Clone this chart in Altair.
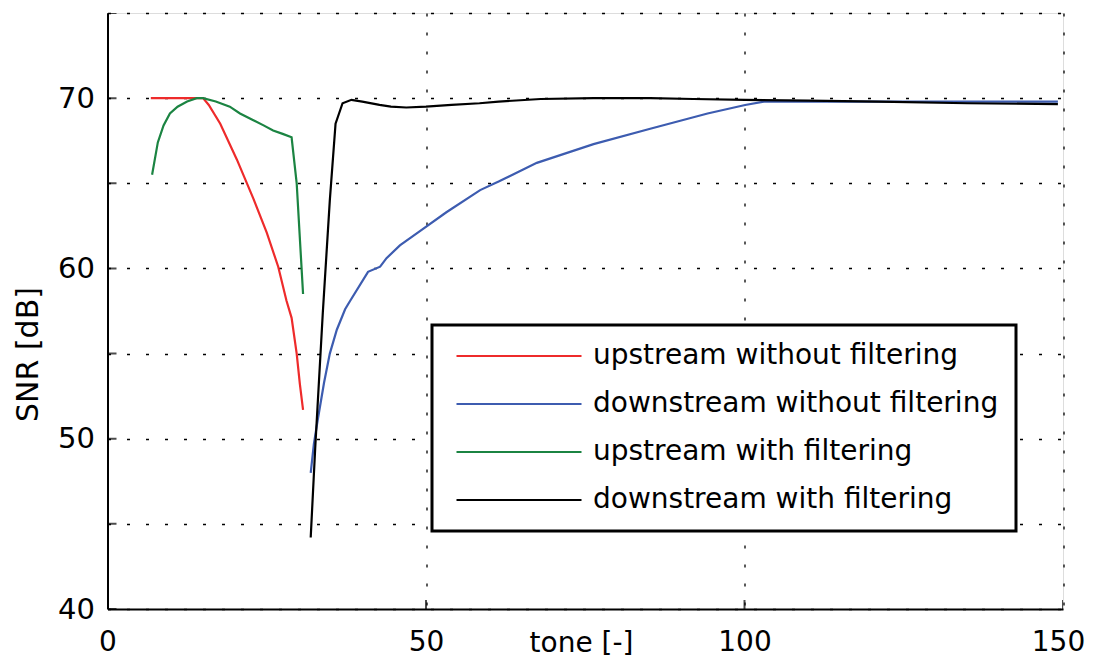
import altair as alt
import pandas as pd

FONT = "DejaVu Sans"

series_names = [
    "upstream without filtering",
    "downstream without filtering",
    "upstream with filtering",
    "downstream with filtering",
]
series_colors = ["#ee2b2b", "#3d5cb0", "#1b8442", "#000000"]

# upstream without filtering (red)
red_x = [6.8, 9.0, 11.0, 13.0, 15.0, 15.9, 17.7, 20.3, 22.9, 25.0, 26.8, 28.1, 28.9, 29.7, 30.2, 30.7]
red_y = [70.0, 70.0, 70.0, 70.0, 70.0, 69.6, 68.5, 66.4, 64.1, 62.1, 60.1, 58.1, 57.1, 55.0, 53.2, 51.7]

# downstream without filtering (blue)
blue_x = [31.9, 32.4, 33.0, 34.0, 34.9, 36.0, 37.3, 38.1, 40.9, 42.8, 43.8, 45.9, 49.1, 53.2, 58.5,
          61.4, 67.4, 76.3, 85.2, 94.2, 100.1, 103.1, 115.0, 130.0, 149.2]
blue_y = [48.0, 49.7, 51.1, 53.3, 55.0, 56.4, 57.6, 58.1, 59.8, 60.1, 60.6, 61.35, 62.2, 63.3, 64.6,
          65.1, 66.2, 67.3, 68.2, 69.1, 69.6, 69.8, 69.8, 69.8, 69.8]

# upstream with filtering (green)
green_x = [7.0, 7.9, 8.8, 9.8, 11.0, 12.5, 14.0, 15.0, 17.0, 19.2, 20.8, 22.9, 24.5, 26.0, 27.5, 28.9, 29.7, 30.7]
green_y = [65.5, 67.4, 68.4, 69.1, 69.5, 69.8, 70.0, 70.0, 69.8, 69.5, 69.1, 68.7, 68.4, 68.1, 67.9, 67.7, 65.0, 58.5]

# downstream with filtering (black)
black_x = [31.9, 32.6, 33.8, 34.9, 35.8, 36.9, 38.3, 40.0, 42.7, 44.5, 46.9, 50.0, 54.0, 58.4, 61.4,
           68.0, 76.3, 85.2, 92.0, 100.1, 110.0, 121.0, 135.0, 149.2]
black_y = [44.2, 49.4, 57.4, 64.0, 68.5, 69.7, 69.9, 69.8, 69.6, 69.5, 69.45, 69.5, 69.6, 69.7, 69.8,
           69.95, 70.0, 70.0, 69.95, 69.9, 69.85, 69.8, 69.7, 69.65]

x_tick_values = [0, 50, 100, 150]
y_tick_values = [40, 45, 50, 55, 60, 65, 70, 75]

rows = []
for name, xs, ys in zip(series_names, [red_x, blue_x, green_x, black_x], [red_y, blue_y, green_y, black_y]):
    for x, y in zip(xs, ys):
        rows.append({"tone": x, "snr": y, "series": name})
df = pd.DataFrame(rows)

ytick_df = pd.DataFrame({"tone": [x_tick_values[0]] * len(y_tick_values), "snr": y_tick_values})
xtick_df = pd.DataFrame({"tone": x_tick_values, "snr": [y_tick_values[0]] * len(x_tick_values)})

x_scale = alt.Scale(domain=[x_tick_values[0], x_tick_values[-1]], nice=False, zero=False)
y_scale = alt.Scale(domain=[y_tick_values[0], y_tick_values[-1]], nice=False, zero=False)

grid_style = dict(grid=True, gridColor="#000000", gridDash=[3, 16], gridWidth=1.3, gridOpacity=1,
                  domain=True, domainColor="#000000", domainWidth=2, ticks=False, tickSize=0,
                  labelFont=FONT, labelColor="#000000", labelFlush=False,
                  labelOverlap=False, titleFont=FONT, titleFontWeight="normal", titleColor="#000000")


def make_chart(fancy):
    x_extra = {}
    if fancy:
        x_extra["labelOffset"] = {"condition": {"test": f"datum.value >= {x_tick_values[-1]}", "value": -5},
                                  "value": 0}
    x_axis = alt.Axis(values=x_tick_values, title="tone [-]", labelPadding=19, labelFontSize=28,
                      titleFontSize=28, titleX=473.5, titleY=34, titleAlign="center",
                      titleBaseline="middle", **x_extra, **grid_style)
    y_axis = alt.Axis(values=y_tick_values, title="SNR [dB]",
                      labelExpr="datum.value % 10 === 0 ? datum.label : ''",
                      labelPadding=13, labelFontSize=29, titleFontSize=30, titleX=-79.5, titleY=341,
                      titleAngle=270, titleAlign="center", titleBaseline="middle", **grid_style)

    X = alt.X("tone:Q", scale=x_scale, axis=x_axis)
    Y = alt.Y("snr:Q", scale=y_scale, axis=y_axis)

    lines = alt.Chart(df).mark_line(strokeWidth=2.2, clip=True).encode(
        x=X,
        y=Y,
        color=alt.Color(
            "series:N",
            sort=series_names,
            scale=alt.Scale(domain=series_names, range=series_colors),
            legend=alt.Legend(
                orient="none", legendX=324.5, legendY=312, title=None,
                labelFont=FONT, labelFontSize=28, labelColor="#000000", labelLimit=700,
                symbolType="M-10,0H10", symbolSize=156.25, symbolStrokeWidth=2.2,
                symbolOffset=56, labelOffset=60, rowPadding=20, padding=17,
                strokeColor="#000000", fillColor="#ffffff",
            ),
        ),
    )

    yticks = alt.Chart(ytick_df).mark_tick(orient="horizontal", size=18, thickness=2,
                                           color="#000000", clip=True).encode(x=X, y=Y)
    xticks = alt.Chart(xtick_df).mark_tick(orient="vertical", size=18, thickness=2,
                                           color="#000000", clip=True).encode(x=X, y=Y)

    c = alt.layer(lines, yticks, xticks).properties(
        width=955.5, height=596,
        padding={"left": 99.5, "top": 5, "right": 24, "bottom": 50},
        autosize=alt.AutoSizeParams(type="none"),
        background="#ffffff",
    )
    c = c.configure_view(stroke=None).configure(font=FONT)
    if fancy:
        c = c.configure_legend(strokeWidth=3)
    return c


try:
    chart = make_chart(True)
    chart.to_dict()
except Exception:
    chart = make_chart(False)

chart.save("out.html", embed_options={"renderer": "svg", "actions": False})
